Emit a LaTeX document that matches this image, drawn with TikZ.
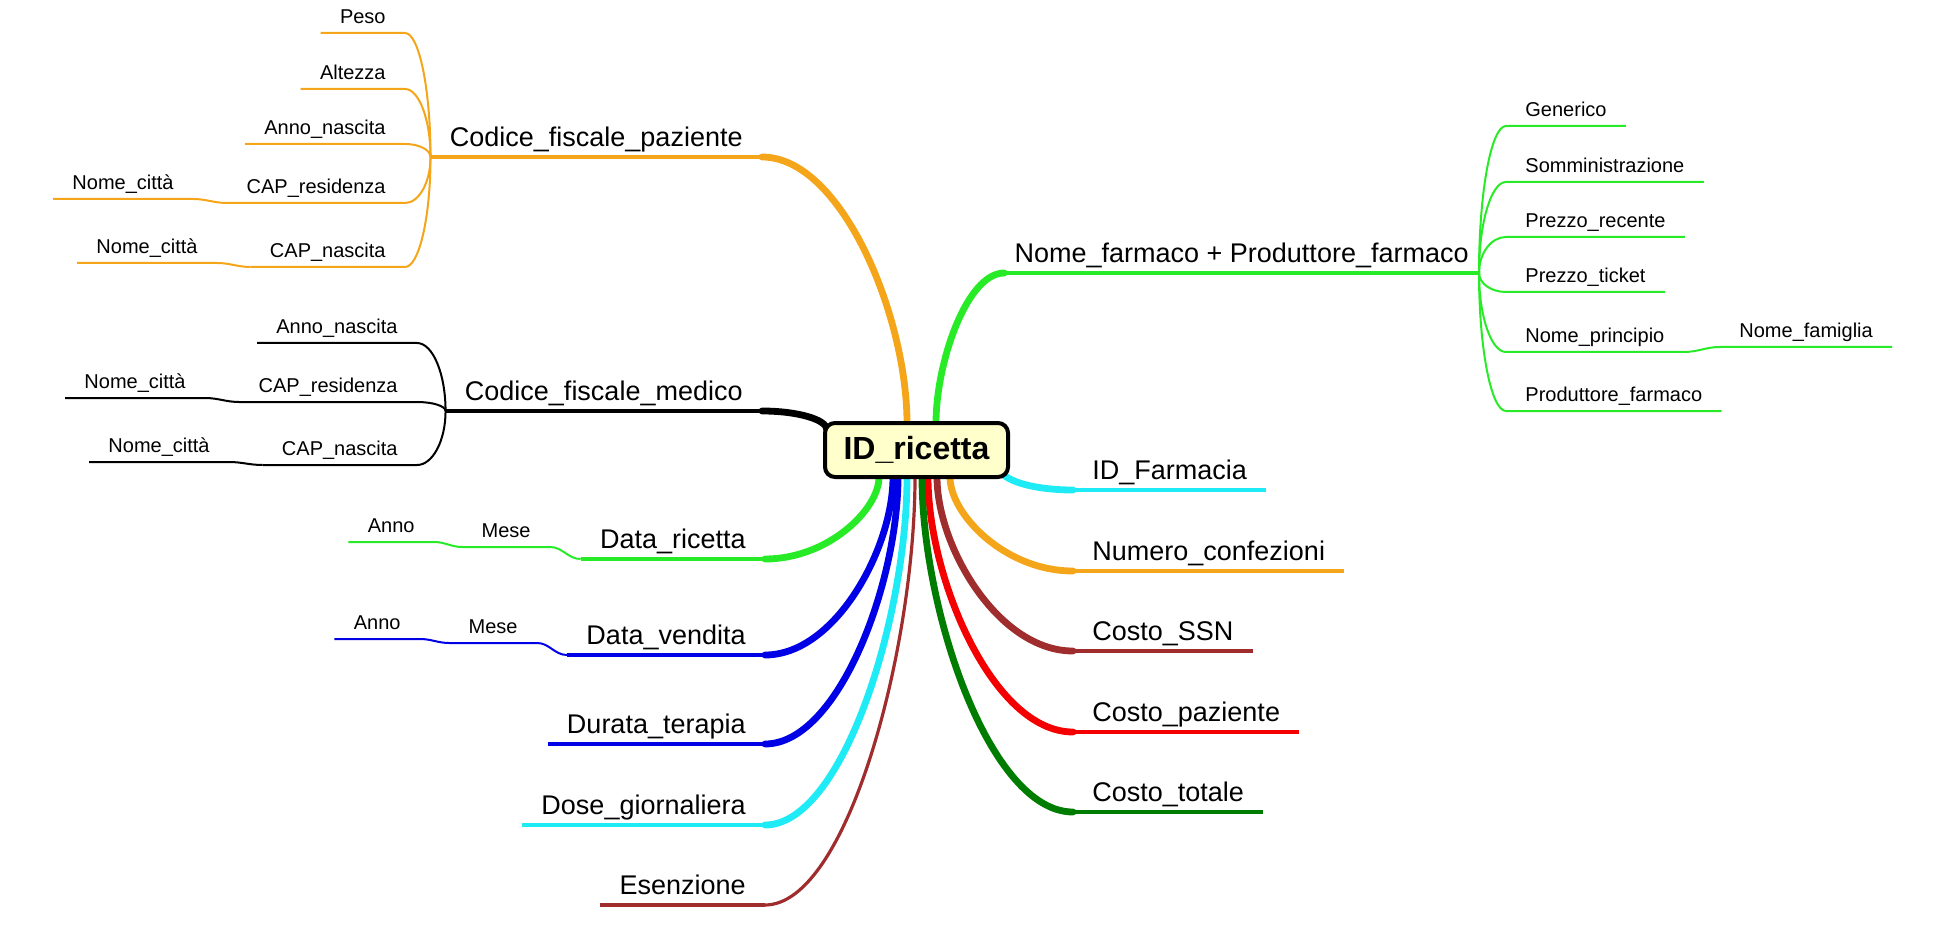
\documentclass[tikz,border=0pt]{standalone}
\usepackage{fontspec}
\setmainfont{Liberation Sans}
\usetikzlibrary{calc}

\definecolor{orng}{RGB}{245,165,25}
\definecolor{grn}{RGB}{40,235,40}
\definecolor{blu}{RGB}{0,0,230}
\definecolor{cyn}{RGB}{30,235,245}
\definecolor{brn}{RGB}{160,45,45}
\definecolor{rd}{RGB}{245,0,0}
\definecolor{dgrn}{RGB}{0,125,0}
\definecolor{cream}{RGB}{255,255,204}

\tikzstyle{big} = [font=\fontsize{13.5}{16}\selectfont, inner xsep=9.5pt, inner ysep=5pt, text depth=0pt]
\tikzstyle{sml} = [font=\fontsize{10}{12}\selectfont, inner xsep=9.5pt, inner ysep=4.5pt, text depth=0pt]
\tikzstyle{core} = [draw, line width=2pt, rounded corners=5pt, fill=cream, inner sep=0pt,
  minimum width=91.5pt, minimum height=27pt, font=\fontsize{16}{19}\selectfont\bfseries]
\tikzstyle{under} = [line width=2.2pt]
\tikzstyle{trunk} = [line width=3.4pt, line cap=round]
\tikzstyle{twig} = [line width=1pt]
\tikzstyle{limb} = [to path={.. controls ($(\tikztostart)!0.55!(\tikztotarget |- \tikztostart)$)
  and ($(\tikztotarget)!0.55!(\tikztotarget |- \tikztostart)$) .. (\tikztotarget)}]
\tikzstyle{sweep} = [to path={.. controls ($(\tikztostart)!0.55!(\tikztotarget |- \tikztostart)$)
  and ($(\tikztotarget)!0.4!(\tikztotarget |- \tikztostart)$) .. (\tikztotarget)}]

\begin{document}
\begin{tikzpicture}[x=0.5pt, y=-0.5pt]
  \useasboundingbox (0,0) rectangle (1936,946);

  % left, top
  \node (cfp) at (762,157) [big, anchor=south east] {Codice\_fiscale\_paziente};
  \node (peso) at (405,33) [sml, anchor=south east] {Peso};
  \node (alt) at (405,89) [sml, anchor=south east] {Altezza};
  \node (annp) at (405,144) [sml, anchor=south east] {Anno\_nascita};
  \node (capr) at (405,203) [sml, anchor=south east] {CAP\_residenza};
  \node (citr) at (193,199) [sml, anchor=south east] {Nome\_città};
  \node (capn) at (405,267) [sml, anchor=south east] {CAP\_nascita};
  \node (citn) at (217,263) [sml, anchor=south east] {Nome\_città};

  \node (cfm) at (762,411) [big, anchor=south east] {Codice\_fiscale\_medico};
  \node (annm) at (417,343) [sml, anchor=south east] {Anno\_nascita};
  \node (capmr) at (417,402) [sml, anchor=south east] {CAP\_residenza};
  \node (citmr) at (205,398) [sml, anchor=south east] {Nome\_città};
  \node (capmn) at (417,465) [sml, anchor=south east] {CAP\_nascita};
  \node (citmn) at (229,462) [sml, anchor=south east] {Nome\_città};

  % left, bottom
  \node (dric) at (765,559) [big, anchor=south east] {Data\_ricetta};
  \node (mric) at (550,547) [sml, anchor=south east] {Mese};
  \node (aric) at (434,542) [sml, anchor=south east] {Anno};
  \node (dven) at (765,655) [big, anchor=south east] {Data\_vendita};
  \node (mven) at (537,643) [sml, anchor=south east] {Mese};
  \node (aven) at (420,639) [sml, anchor=south east] {Anno};
  \node (dter) at (765,744) [big, anchor=south east] {Durata\_terapia};
  \node (dgio) at (765,825) [big, anchor=south east] {Dose\_giornaliera};
  \node (esen) at (765,905) [big, anchor=south east] {Esenzione};

  % right
  \node (nfar) at (1479,273) [big, anchor=south east, inner xsep=5pt] {Nome\_farmaco + Produttore\_farmaco};
  \node (gen) at (1506,126) [sml, anchor=south west] {Generico};
  \node (somm) at (1506,182) [sml, anchor=south west] {Somministrazione};
  \node (prec) at (1506,237) [sml, anchor=south west] {Prezzo\_recente};
  \node (ptic) at (1506,292) [sml, anchor=south west] {Prezzo\_ticket};
  \node (npri) at (1506,352) [sml, anchor=south west] {Nome\_principio};
  \node (nfam) at (1720,347) [sml, anchor=south west] {Nome\_famiglia};
  \node (pfar) at (1506,411) [sml, anchor=south west] {Produttore\_farmaco};

  \node (idf) at (1073,490) [big, anchor=south west] {ID\_Farmacia};
  \node (ncon) at (1073,571) [big, anchor=south west] {Numero\_confezioni};
  \node (cssn) at (1073,651) [big, anchor=south west] {Costo\_SSN};
  \node (cpaz) at (1073,732) [big, anchor=south west] {Costo\_paziente};
  \node (ctot) at (1073,812) [big, anchor=south west] {Costo\_totale};

  % ports on the central box
  \coordinate (tpat) at (907,423);
  \coordinate (tfar) at (936,423);
  \coordinate (tmed) at (827,430);
  \coordinate (bric) at (879,477);
  \coordinate (bven) at (893,477);
  \coordinate (bter) at (898,477);
  \coordinate (bdos) at (907,477);
  \coordinate (besn) at (915,477);
  \coordinate (btot) at (922,477);
  \coordinate (bpaz) at (928,477);
  \coordinate (bssn) at (937,477);
  \coordinate (bcon) at (950,477);
  \coordinate (bfar) at (1000,468);

  \draw [twig, orng] (peso.south west) -- (peso.south east) to[limb] (cfp.south west);
  \draw [twig, orng] (alt.south west) -- (alt.south east) to[limb] (cfp.south west);
  \draw [twig, orng] (annp.south west) -- (annp.south east) to[limb] (cfp.south west);
  \draw [twig, orng] (capr.south west) -- (capr.south east) to[limb] (cfp.south west);
  \draw [twig, orng] (capn.south west) -- (capn.south east) to[limb] (cfp.south west);
  \draw [twig, orng] (citr.south west) -- (citr.south east) to[out=0,in=180] (capr.south west);
  \draw [twig, orng] (citn.south west) -- (citn.south east) to[out=0,in=180] (capn.south west);

  \draw [twig] (annm.south west) -- (annm.south east) to[limb] (cfm.south west);
  \draw [twig] (capmr.south west) -- (capmr.south east) to[limb] (cfm.south west);
  \draw [twig] (capmn.south west) -- (capmn.south east) to[limb] (cfm.south west);
  \draw [twig] (citmr.south west) -- (citmr.south east) to[out=0,in=180] (capmr.south west);
  \draw [twig] (citmn.south west) -- (citmn.south east) to[out=0,in=180] (capmn.south west);

  \draw [twig, grn] (aric.south west) -- (aric.south east) to[out=0,in=180] (mric.south west)
    -- (mric.south east) to[out=0,in=180] (dric.south west);
  \draw [twig, blu] (aven.south west) -- (aven.south east) to[out=0,in=180] (mven.south west)
    -- (mven.south east) to[out=0,in=180] (dven.south west);

  \draw [twig, grn] (gen.south east) -- (gen.south west) to[limb] (nfar.south east);
  \draw [twig, grn] (somm.south east) -- (somm.south west) to[limb] (nfar.south east);
  \draw [twig, grn] (prec.south east) -- (prec.south west) to[limb] (nfar.south east);
  \draw [twig, grn] (ptic.south east) -- (ptic.south west) to[limb] (nfar.south east);
  \draw [twig, grn] (npri.south east) -- (npri.south west) to[limb] (nfar.south east);
  \draw [twig, grn] (pfar.south east) -- (pfar.south west) to[limb] (nfar.south east);
  \draw [twig, grn] (npri.south east) to[out=0,in=180] (nfam.south west) -- (nfam.south east);

  \draw [under, orng] (cfp.south west) -- (cfp.south east);
  \draw [trunk, orng] (cfp.south east) to[sweep] (tpat);
  \draw [under] (cfm.south west) -- (cfm.south east);
  \draw [trunk] (cfm.south east) to[limb] (tmed);
  \draw [under, grn] (dric.south west) -- (dric.south east);
  \draw [trunk, grn] (dric.south east) to[sweep] (bric);
  \draw [under, blu] (dven.south west) -- (dven.south east);
  \draw [trunk, blu] (dven.south east) to[sweep] (bven);
  \draw [under, blu] (dter.south west) -- (dter.south east);
  \draw [trunk, blu] (dter.south east) to[sweep] (bter);
  \draw [under, cyn] (dgio.south west) -- (dgio.south east);
  \draw [trunk, cyn] (dgio.south east) to[sweep] (bdos);
  \draw [under, brn] (esen.south west) -- (esen.south east);
  \draw [twig, brn, line width=1.6pt] (esen.south east) to[sweep] (besn);

  \draw [under, grn] (nfar.south east) -- (nfar.south west);
  \draw [trunk, grn] (nfar.south west) to[sweep] (tfar);
  \draw [under, cyn] (idf.south east) -- (idf.south west);
  \draw [trunk, cyn] (idf.south west) to[limb] (bfar);
  \draw [under, orng] (ncon.south east) -- (ncon.south west);
  \draw [trunk, orng] (ncon.south west) to[sweep] (bcon);
  \draw [under, brn] (cssn.south east) -- (cssn.south west);
  \draw [trunk, brn] (cssn.south west) to[sweep] (bssn);
  \draw [under, rd] (cpaz.south east) -- (cpaz.south west);
  \draw [trunk, rd] (cpaz.south west) to[sweep] (bpaz);
  \draw [under, dgrn] (ctot.south east) -- (ctot.south west);
  \draw [trunk, dgrn] (ctot.south west) to[sweep] (btot);

  \node (idr) at (916.5,450) [core] {ID\_ricetta};
\end{tikzpicture}
\end{document}
